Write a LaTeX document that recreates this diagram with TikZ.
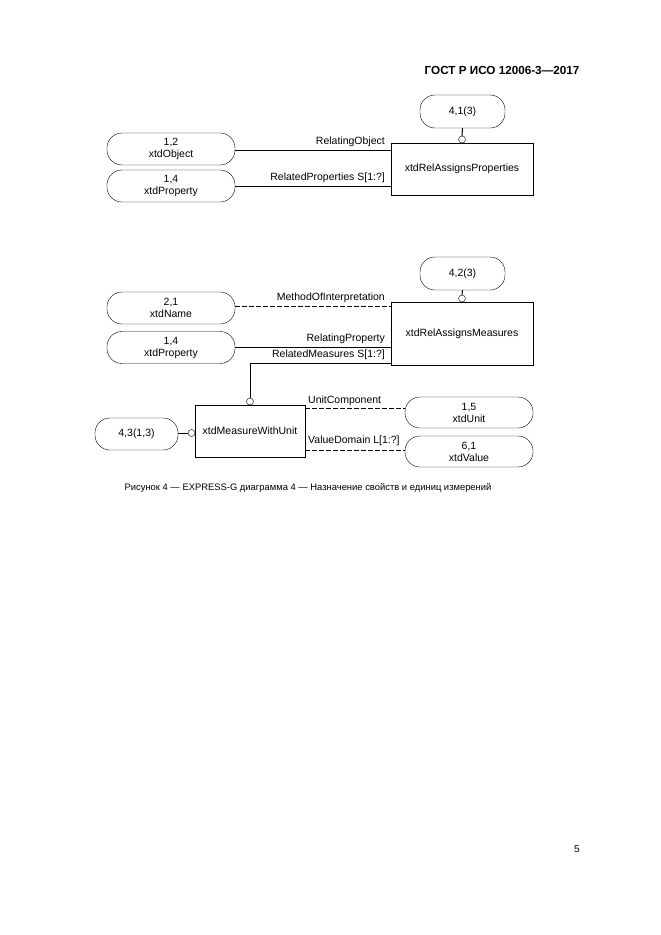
\documentclass[tikz,border=0pt]{standalone}
\usepackage{fontspec}
\setmainfont{Liberation Sans}
\begin{document}
\begin{tikzpicture}[x=1pt,y=-1pt,
  ent/.style={draw,rounded corners=15pt,align=center,inner sep=0pt,font=\fontsize{10.5}{12}\selectfont},
  box/.style={draw,align=center,inner sep=0pt,font=\fontsize{10.5}{12}\selectfont},
  lab/.style={font=\fontsize{10.5}{12}\selectfont,inner sep=1pt},
  opt/.style={dashed,dash pattern=on 5pt off 2pt},
  circ/.style={draw,fill=white,circle,inner sep=0pt,minimum size=7pt}]
\useasboundingbox (0,0) rectangle (661,935);
\node[font=\bfseries\fontsize{11.7}{13}\selectfont,anchor=east] (hdr) at (583,70) {ГОСТ Р ИСО 12006-3—2017};
% top
\node[ent,minimum width=85pt,minimum height=33pt] (r1) at (462.5,111.5) {4,1(3)};
\node[box,minimum width=142pt,minimum height=52pt] (b1) at (462,169) {xtdRelAssignsProperties};
\node[circ] (c1) at (462,139.5) {};
\draw[line width=1pt] (r1.south) -- (c1.north);
\node[ent,minimum width=128pt,minimum height=32pt] (o1) at (171,149) {1,2\\xtdObject};
\node[ent,minimum width=128pt,minimum height=32pt] (p1) at (171,186) {1,4\\xtdProperty};
\draw (o1.east|-0,150) -- (b1.west|-0,150);
\node[lab,anchor=south east] (l1) at (386,148) {RelatingObject};
\draw (p1.east|-0,186) -- (b1.west|-0,186);
\node[lab,anchor=south east] (l2) at (386,184) {RelatedProperties S[1:?]};
% second
\node[ent,minimum width=85pt,minimum height=33pt] (r2) at (462.5,273.5) {4,2(3)};
\node[box,minimum width=142pt,minimum height=63pt] (b2) at (462,333.5) {xtdRelAssignsMeasures};
\node[circ] (c2) at (462,298.5) {};
\draw[line width=1pt] (r2.south) -- (c2.north);
\node[ent,minimum width=128pt,minimum height=32pt] (n2) at (171,308) {2,1\\xtdName};
\node[ent,minimum width=128pt,minimum height=32pt] (p2) at (171,347.5) {1,4\\xtdProperty};
\draw[opt] (n2.east|-0,306) -- (b2.west|-0,306);
\node[lab,anchor=south east] (l3) at (386,304) {MethodOfInterpretation};
\draw (p2.east|-0,347) -- (b2.west|-0,347);
\node[lab,anchor=south east] (l4) at (386,345) {RelatingProperty};
\node[box,minimum width=110pt,minimum height=52pt] (m) at (250,431) {xtdMeasureWithUnit};
\node[circ] (c3) at (250,401.5) {};
\draw (b2.west|-0,363) -- (250,363) -- (c3.north);
\node[lab,anchor=south east] (l5) at (386,361) {RelatedMeasures S[1:?]};
\node[ent,minimum width=83pt,minimum height=32pt] (r3) at (136.5,434) {4,3(1,3)};
\node[circ] (c4) at (191.5,433) {};
\draw[line width=1pt] (r3.east|-c4) -- (c4.west);
\node[ent,minimum width=128pt,minimum height=31pt] (u) at (469,412.5) {1,5\\xtdUnit};
\node[ent,minimum width=128pt,minimum height=31pt] (v) at (469,451.5) {6,1\\xtdValue};
\draw[opt] (m.east|-0,408) -- (u.west|-0,408);
\node[lab,anchor=south west] (l6) at (307,407) {UnitComponent};
\draw[opt] (m.east|-0,450) -- (v.west|-0,450);
\node[lab,anchor=south west] (l7) at (307,447) {ValueDomain L[1:?]};
\node[font=\fontsize{9.4}{11}\selectfont] (cap) at (308,488) {Рисунок 4 — EXPRESS-G диаграмма 4 — Назначение свойств и единиц измерений};
\node[font=\fontsize{10}{12}\selectfont] (pg) at (577,849) {5};
\end{tikzpicture}
\end{document}
